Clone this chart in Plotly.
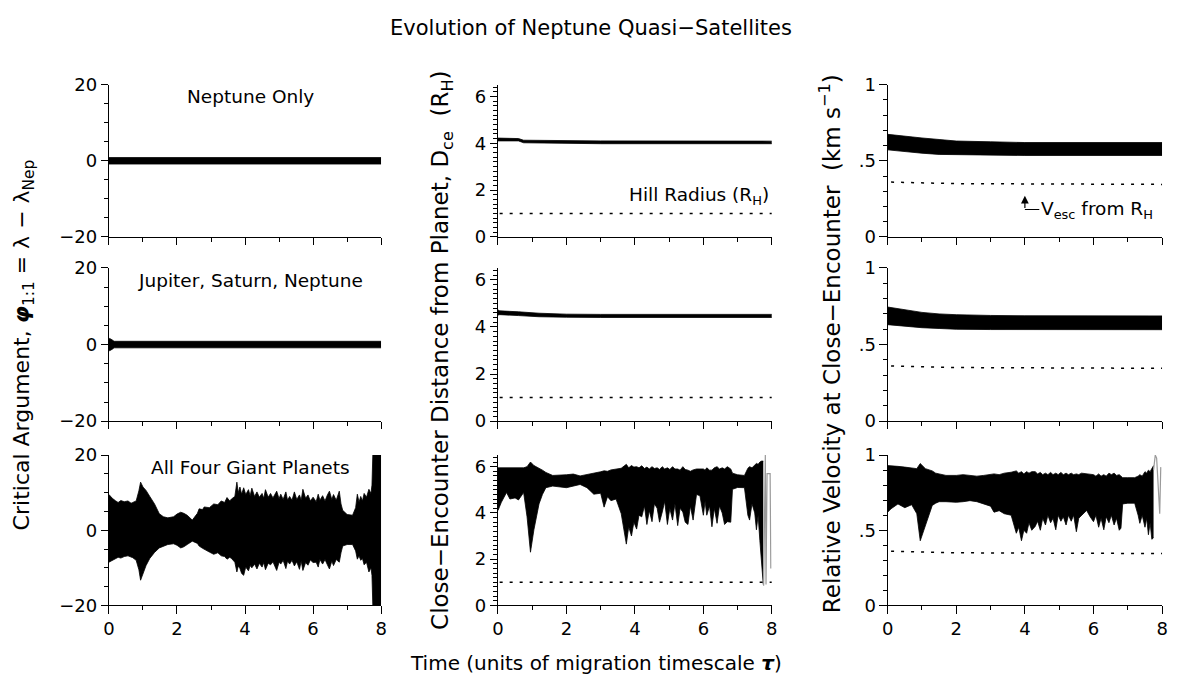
import plotly.graph_objects as go

# ---------------- data ----------------
# Row 1: Neptune only
t_r1_phi = [0, 8]
phi_r1_up = [0.85, 0.85]
phi_r1_lo = [-0.85, -0.85]

t_r1_d = [0, 0.6, 0.75, 1.5, 3.0, 8.0]
d_r1_up = [4.22, 4.20, 4.13, 4.11, 4.10, 4.09]
d_r1_lo = [4.10, 4.10, 4.02, 4.00, 3.98, 3.98]

t_r1_v = [0, 0.5, 1.0, 1.5, 2.0, 3.0, 4.0, 8.0]
v_r1_up = [0.674, 0.66, 0.65, 0.64, 0.63, 0.625, 0.62, 0.62]
v_r1_lo = [0.572, 0.56, 0.55, 0.542, 0.54, 0.537, 0.535, 0.535]

# Row 2: Jupiter, Saturn, Neptune
t_r2_phi = [0, 0.02, 0.1, 0.15, 8]
phi_r2_up = [1.5, 1.6, 1.2, 0.85, 0.85]
phi_r2_lo = [-1.5, -1.6, -1.2, -0.85, -0.85]

t_r2_d = [0, 0.05, 0.6, 1.2, 2.0, 3.0, 8.0]
d_r2_up = [4.72, 4.68, 4.64, 4.58, 4.54, 4.53, 4.53]
d_r2_lo = [4.50, 4.52, 4.48, 4.43, 4.41, 4.40, 4.40]

t_r2_v = [0, 0.5, 1.0, 1.5, 2.0, 3.0, 4.0, 8.0]
v_r2_up = [0.745, 0.725, 0.71, 0.70, 0.695, 0.69, 0.688, 0.687]
v_r2_lo = [0.63, 0.62, 0.61, 0.605, 0.60, 0.598, 0.597, 0.597]

# Row 3: All four giant planets
t_r3_phi = [0, 0.1, 0.2, 0.27, 0.35, 0.45, 0.56, 0.65, 0.7, 0.8,
            0.88, 0.93, 1.0, 1.09, 1.2, 1.34, 1.48, 1.6, 1.73, 1.9,
            2.0, 2.11, 2.2, 2.3, 2.45, 2.6, 2.65, 2.75, 2.8, 2.95,
            3.08, 3.2, 3.3, 3.4, 3.47, 3.55, 3.6, 3.7, 3.76, 3.8,
            3.85, 3.9, 3.96, 4.02, 4.1, 4.15, 4.2, 4.28, 4.35, 4.42,
            4.5, 4.55, 4.6, 4.68, 4.75, 4.82, 4.93, 5.0, 5.05, 5.12,
            5.2, 5.25, 5.31, 5.38, 5.45, 5.52, 5.6, 5.65, 5.7, 5.78,
            5.85, 5.92, 6.0, 6.09, 6.15, 6.2, 6.28, 6.35, 6.42, 6.48,
            6.55, 6.6, 6.68, 6.77, 6.82, 6.87, 7.0, 7.16, 7.25, 7.3,
            7.35, 7.4, 7.45, 7.5, 7.57, 7.64, 7.7, 7.73, 7.755, 8.0]
phi_r3_up = [9.5, 8.5, 7.8, 7.4, 7.9, 7.6, 7.8, 7.2, 7.4, 7.8,
             10.5, 12.8, 11.5, 10.6, 9.0, 7.0, 4.4, 3.6, 3.3, 3.6,
             4.3, 4.8, 4.5, 4.0, 2.7, 4.5, 5.7, 5.5, 6.2, 6.0,
             7.0, 6.8, 7.8, 7.4, 8.7, 7.8, 8.3, 9.0, 12.8, 10.0,
             11.5, 9.6, 11.3, 9.5, 10.8, 9.2, 11.2, 9.0, 10.2, 8.8,
             9.8, 8.5, 10.8, 8.8, 9.8, 8.6, 10.4, 8.4, 9.6, 8.2,
             10.2, 8.0, 9.0, 8.0, 10.2, 8.2, 9.4, 8.0, 10.9, 8.5,
             9.4, 7.8, 8.8, 7.6, 9.6, 8.0, 9.2, 7.8, 9.4, 10.4,
             8.2, 9.5, 8.0, 10.4, 7.0, 5.3, 4.2, 4.0, 6.0, 9.6,
             7.5, 9.0, 7.8, 9.8, 8.8, 10.9, 9.8, 12.0, 20.0, 20.0]
phi_r3_lo = [-8.5, -8.0, -7.5, -7.2, -7.4, -7.0, -6.8, -7.2, -7.3, -8.0,
             -10.5, -13.3, -11.5, -9.4, -7.5, -5.9, -4.7, -4.2, -3.8, -3.6,
             -4.0, -4.7, -4.4, -3.8, -2.9, -3.5, -4.2, -4.8, -5.0, -5.8,
             -6.4, -6.0, -6.8, -7.0, -7.7, -7.2, -7.5, -8.5, -11.1, -9.5,
             -10.2, -11.5, -12.0, -9.8, -10.8, -9.4, -10.0, -9.0, -10.3, -8.8,
             -9.8, -8.6, -10.5, -8.8, -9.2, -8.4, -10.7, -8.5, -9.0, -8.0,
             -10.2, -8.2, -9.0, -8.0, -9.5, -8.4, -10.4, -8.2, -10.7, -8.6,
             -9.3, -7.9, -8.6, -8.5, -9.8, -7.8, -9.0, -7.8, -9.2, -10.3,
             -8.2, -9.4, -7.8, -8.5, -6.0, -4.2, -3.8, -3.8, -5.5, -7.7,
             -6.8, -8.0, -7.5, -9.2, -8.5, -11.1, -10.0, -12.0, -20.0, -20.0]

t_r3_d = [0, 0.1, 0.25, 0.35, 0.5, 0.6, 0.75, 0.85, 0.95, 1.05, 1.2, 1.3, 1.4, 1.6, 2.0,
          2.2, 2.4, 2.6, 2.8, 3.0, 3.1, 3.2, 3.3, 3.45, 3.6, 3.75, 3.82, 3.9, 3.97, 4.05,
          4.12, 4.2, 4.28, 4.35, 4.42, 4.5, 4.57, 4.65, 4.72, 4.8, 4.87, 4.95, 5.02, 5.1, 5.17,
          5.25, 5.32, 5.4, 5.47, 5.55, 5.62, 5.7, 5.8, 5.9, 6.0, 6.05, 6.1, 6.18, 6.25, 6.32,
          6.4, 6.47, 6.55, 6.62, 6.7, 6.8, 6.85, 7.0, 7.2, 7.3, 7.35, 7.42, 7.5, 7.55, 7.6, 7.65, 7.7, 7.75]
d_r3_up = [5.95, 5.95, 5.95, 5.93, 5.92, 5.93, 5.95, 6.0, 6.2, 6.05, 5.95, 5.85, 5.75, 5.62, 5.65,
           5.68, 5.6, 5.65, 5.72, 5.78, 5.82, 5.8, 5.86, 5.9, 5.93, 6.1, 5.95, 6.05, 5.98, 6.0,
           5.95, 6.04, 5.92, 5.98, 5.9, 6.0, 5.92, 5.95, 5.88, 6.0, 5.9, 5.95, 5.88, 6.0, 5.9,
           5.9, 5.85, 6.0, 5.88, 5.85, 5.8, 5.86, 5.9, 5.9, 5.9, 5.85, 5.95, 5.85, 5.85, 5.95,
           6.0, 5.9, 5.95, 5.9, 6.0, 5.9, 5.72, 5.65, 5.62, 5.93, 6.0, 5.95, 6.05, 6.14, 6.1, 6.2, 6.24, 6.24]
d_r3_lo = [4.1, 4.46, 4.88, 4.6, 4.65, 4.56, 4.88, 3.83, 2.3, 3.27, 4.39, 4.8, 5.09, 5.16, 5.09,
           5.15, 5.23, 5.09, 4.81, 4.85, 4.25, 4.7, 4.53, 4.6, 3.97, 2.65, 3.4, 3.0, 3.6, 3.3,
           3.9, 3.83, 4.3, 3.5, 4.1, 3.62, 4.4, 4.2, 3.6, 4.04, 4.5, 3.5, 4.2, 3.69, 4.4,
           3.45, 4.2, 4.04, 3.6, 3.5, 4.3, 3.69, 4.8, 4.74, 3.9, 4.5, 3.9, 4.3, 3.4, 4.2,
           3.55, 4.3, 4.0, 3.5, 3.62, 3.6, 5.02, 5.1, 5.09, 3.9, 3.69, 4.4, 4.0, 3.27, 3.9, 2.8, 1.73, 0.9]
t_r3_d_tail = [7.76, 7.81, 7.83, 7.86, 7.95, 7.97]
d_r3_tail = [0.85, 6.5, 0.9, 5.7, 5.7, 1.6]

t_r3_v = [0, 0.1, 0.3, 0.5, 0.7, 0.85, 0.95, 1.1, 1.3, 1.4, 1.5, 1.7, 2.0, 2.2, 2.4,
          2.6, 2.8, 3.0, 3.1, 3.25, 3.4, 3.6, 3.75, 3.82, 3.9, 3.97, 4.05, 4.12, 4.2, 4.3,
          4.37, 4.45, 4.52, 4.6, 4.67, 4.75, 4.82, 4.9, 4.97, 5.05, 5.12, 5.2, 5.27, 5.35, 5.42,
          5.5, 5.57, 5.65, 5.8, 5.9, 6.0, 6.07, 6.15, 6.22, 6.3, 6.37, 6.45, 6.52, 6.6, 6.67,
          6.75, 6.8, 6.85, 7.0, 7.2, 7.3, 7.35, 7.42, 7.5, 7.55, 7.6, 7.65, 7.7, 7.75]
v_r3_up = [0.93, 0.93, 0.925, 0.92, 0.915, 0.91, 0.944, 0.91, 0.895, 0.88, 0.875, 0.865, 0.865, 0.87, 0.865,
           0.86, 0.865, 0.873, 0.875, 0.87, 0.88, 0.886, 0.895, 0.88, 0.89, 0.875, 0.89, 0.88, 0.89, 0.89,
           0.875, 0.885, 0.87, 0.88, 0.87, 0.885, 0.87, 0.88, 0.87, 0.885, 0.87, 0.88, 0.87, 0.88, 0.87,
           0.875, 0.87, 0.88, 0.875, 0.87, 0.87, 0.86, 0.875, 0.86, 0.87, 0.86, 0.88, 0.87, 0.88, 0.865,
           0.87, 0.86, 0.85, 0.85, 0.85, 0.86, 0.87, 0.86, 0.89, 0.88, 0.9, 0.89, 0.91, 0.93]
v_r3_lo = [0.62, 0.643, 0.675, 0.65, 0.67, 0.61, 0.43, 0.525, 0.665, 0.68, 0.69, 0.69, 0.686, 0.69, 0.697,
           0.69, 0.675, 0.66, 0.62, 0.63, 0.61, 0.60, 0.48, 0.52, 0.43, 0.5, 0.48, 0.55, 0.5, 0.525,
           0.56, 0.5, 0.58, 0.535, 0.6, 0.55, 0.58, 0.503, 0.6, 0.56, 0.59, 0.535, 0.6, 0.56, 0.6,
           0.49, 0.58, 0.6, 0.632, 0.59, 0.557, 0.6, 0.52, 0.58, 0.503, 0.59, 0.55, 0.6, 0.535, 0.58,
           0.5, 0.514, 0.675, 0.68, 0.68, 0.6, 0.546, 0.6, 0.52, 0.58, 0.47, 0.55, 0.44, 0.45]
t_r3_v_tail = [7.75, 7.8, 7.84, 7.9, 7.93, 7.96]
v_r3_tail = [0.9, 1.0, 0.98, 0.75, 0.61, 0.92]

# Reference lines
t_hill = [0.05, 8]
d_hill = [1.0, 1.0]
t_vesc = [0.1, 2.0, 8.0]
v_vesc = [0.36, 0.35, 0.345]

panel_labels = ["Neptune Only", "Jupiter, Saturn, Neptune", "All Four Giant Planets"]

# ---------------- layout geometry ----------------
W, H = 1181, 692
col_px = [(104, 379), (497, 773.7), (890.7, 1168)]
row_px = [(76, 233), (265, 423), (458, 613)]
FONT = "DejaVu Sans"

fig = go.Figure()

def band(k, t, up, lo):
    fig.add_trace(go.Scatter(x=t, y=lo, mode="lines", line=dict(color="black", width=0.8),
                             xaxis=f"x{k}", yaxis=f"y{k}", showlegend=False, hoverinfo="skip"))
    fig.add_trace(go.Scatter(x=t, y=up, mode="lines", line=dict(color="black", width=0.8),
                             fill="tonexty", fillcolor="black",
                             xaxis=f"x{k}", yaxis=f"y{k}", showlegend=False, hoverinfo="skip"))

def line(k, t, y, color="black", width=1.5, dash=None):
    fig.add_trace(go.Scatter(x=t, y=y, mode="lines",
                             line=dict(color=color, width=width, dash=dash),
                             xaxis=f"x{k}", yaxis=f"y{k}", showlegend=False, hoverinfo="skip"))

data = [
    [(t_r1_phi, phi_r1_up, phi_r1_lo), (t_r1_d, d_r1_up, d_r1_lo), (t_r1_v, v_r1_up, v_r1_lo)],
    [(t_r2_phi, phi_r2_up, phi_r2_lo), (t_r2_d, d_r2_up, d_r2_lo), (t_r2_v, v_r2_up, v_r2_lo)],
    [(t_r3_phi, phi_r3_up, phi_r3_lo), (t_r3_d, d_r3_up, d_r3_lo), (t_r3_v, v_r3_up, v_r3_lo)],
]

layout = dict(width=W, height=H, margin=dict(l=0, r=0, t=0, b=0),
              paper_bgcolor="white", plot_bgcolor="white",
              font=dict(family=FONT, color="black", size=16), showlegend=False)

tickfont = dict(family=FONT, size=18, color="black")
for r in range(3):
    for c in range(3):
        k = r * 3 + c + 1
        m = k + 9  # overlay axes carrying the minor ticks
        t, up, lo = data[r][c]
        band(k, t, up, lo)
        if c == 1:
            line(k, t_hill, d_hill, dash="3px,7px")
        if c == 2:
            line(k, t_vesc, v_vesc, dash="3px,7px")
        xd = [col_px[c][0] / W, col_px[c][1] / W]
        yd = [1 - row_px[r][1] / H, 1 - row_px[r][0] / H]
        sfx = "" if k == 1 else str(k)
        if c == 0:
            rng, dt, md, alias = [-20, 20], 20, 5, {}
        elif c == 1:
            rng, dt, md, alias = [0, 6.5], 2, 0.2, {}
        else:
            rng, dt, md, alias = [0, 1], 0.5, 0.1, {"0.5": ".5"}
        layout["xaxis" + sfx] = dict(
            domain=xd, range=[0, 8], anchor=f"y{k}", showgrid=False, zeroline=False,
            showline=True, linecolor="black", linewidth=1.3,
            ticks="outside", ticklen=7, tickwidth=1.3, tickcolor="black",
            tickmode="linear", tick0=0, dtick=2, showticklabels=(r == 2),
            tickfont=tickfont)
        layout["yaxis" + sfx] = dict(
            domain=yd, range=rng, anchor=f"x{k}", showgrid=False, zeroline=False,
            showline=True, linecolor="black", linewidth=1.3,
            ticks="outside", ticklen=7, tickwidth=1.3, tickcolor="black",
            tickmode="linear", tick0=0, dtick=dt, labelalias=alias, tickfont=tickfont)
        # minor tick axes
        layout[f"xaxis{m}"] = dict(
            domain=xd, range=[0, 8], overlaying=f"x{k}", anchor=f"y{k}", side="bottom",
            showgrid=False, zeroline=False, showline=False, showticklabels=False,
            ticks="outside", ticklen=4, tickwidth=1.3, tickcolor="black",
            tickmode="linear", tick0=0, dtick=1)
        layout[f"yaxis{m}"] = dict(
            domain=yd, range=rng, overlaying=f"y{k}", anchor=f"x{k}", side="left",
            showgrid=False, zeroline=False, showline=False, showticklabels=False,
            ticks="outside", ticklen=4, tickwidth=1.2, tickcolor="black",
            tickmode="linear", tick0=0, dtick=md)
        fig.add_trace(go.Scatter(x=[None], y=[None], mode="markers", xaxis=f"x{m}",
                                 yaxis=f"y{m}", showlegend=False, hoverinfo="skip"))

# grey tails at end of bottom panels
line(8, t_r3_d_tail, d_r3_tail, color="#9a9a9a", width=1.2)
line(9, t_r3_v_tail, v_r3_tail, color="#9a9a9a", width=1.2)

fig.update_layout(**layout)

NB = "\u00a0"
ann = []
# Title
ann.append(dict(text="Evolution of Neptune Quasi\u2212Satellites", x=591 / W, y=1 - 18 / H,
                xref="paper", yref="paper", showarrow=False,
                font=dict(family=FONT, size=21), xanchor="center", yanchor="middle"))
# x title
ann.append(dict(text="Time (units of migration timescale <b><i>\u03c4</i></b>)", x=596 / W, y=1 - 672 / H,
                xref="paper", yref="paper", showarrow=False,
                font=dict(family=FONT, size=20), xanchor="center", yanchor="middle"))
# y titles
ann.append(dict(text=f"Critical Argument, <b><i>\u03c6</i></b><sub>1:1</sub>{NB}={NB}\u03bb{NB}\u2212{NB}\u03bb<sub>Nep</sub>",
                x=18 / W, y=1 - 344 / H, xref="paper", yref="paper", showarrow=False,
                textangle=-90, font=dict(family=FONT, size=22), xanchor="center", yanchor="middle"))
ann.append(dict(text=f"Close\u2212Encounter Distance from Planet, D<sub>ce</sub>{NB} (R<sub>H</sub>)",
                x=441 / W, y=1 - 350 / H, xref="paper", yref="paper", showarrow=False,
                textangle=-90, font=dict(family=FONT, size=23), xanchor="center", yanchor="middle"))
ann.append(dict(text=f"Relative Velocity at Close\u2212Encounter{NB} (km s<sup>\u22121</sup>)",
                x=832 / W, y=1 - 343 / H, xref="paper", yref="paper", showarrow=False,
                textangle=-90, font=dict(family=FONT, size=23), xanchor="center", yanchor="middle"))
# panel labels
for r, lab in enumerate(panel_labels):
    ypx = [88, 278, 471][r]
    ann.append(dict(text=lab, x=247 / W, y=1 - ypx / H, xref="paper", yref="paper",
                    showarrow=False, font=dict(family=FONT, size=18.5),
                    xanchor="center", yanchor="middle"))
# Hill radius label
ann.append(dict(text="Hill Radius (R<sub>H</sub>)", x=773 / W, y=1 - 191 / H,
                xref="paper", yref="paper", showarrow=False, font=dict(family=FONT, size=18.5),
                xanchor="right", yanchor="middle"))
# V_esc arrow & label
ann.append(dict(text="", x=4.0, y=0.27, ax=4.0, ay=0.18, xref="x3", yref="y3",
                axref="x3", ayref="y3", showarrow=True, arrowhead=2, arrowsize=1.3,
                arrowwidth=1.2, arrowcolor="black"))
ann.append(dict(text="V<sub>esc</sub> from R<sub>H</sub>", x=4.42, y=0.18, xref="x3", yref="y3",
                showarrow=False, font=dict(family=FONT, size=18.5),
                xanchor="left", yanchor="middle"))
fig.update_layout(annotations=ann)
fig.add_shape(type="line", x0=4.0, y0=0.18, x1=4.42, y1=0.18, xref="x3", yref="y3",
              line=dict(color="black", width=1.2))

fig.write_html("out.html")
